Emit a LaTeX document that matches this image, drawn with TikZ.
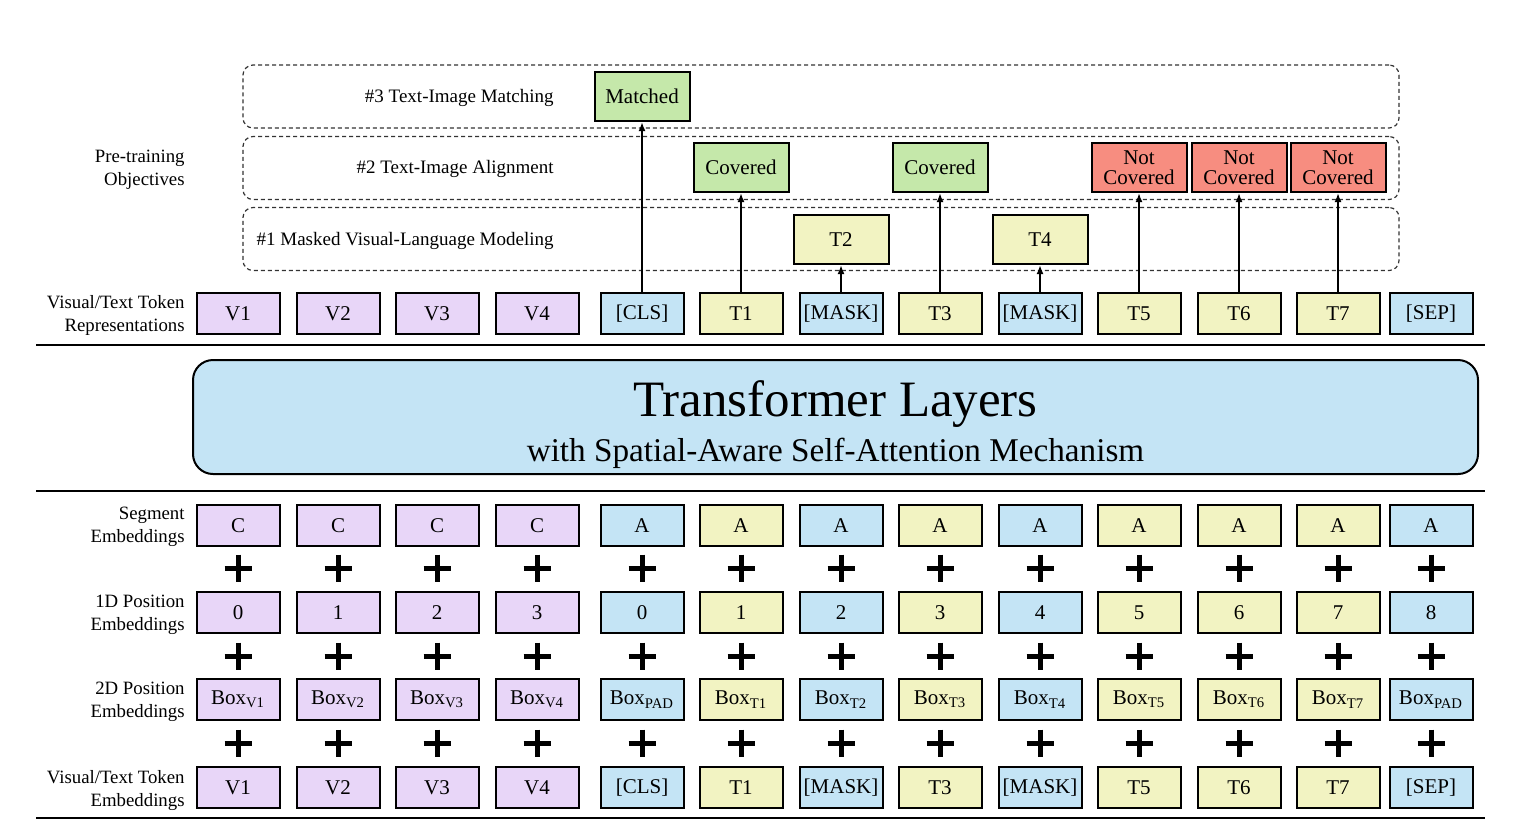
\documentclass[tikz,border=0pt]{standalone}
\usepackage{fontspec}
\setmainfont{Liberation Serif}
\usepackage{xcolor}
\usetikzlibrary{arrows.meta, positioning}

\definecolor{vispurple}{RGB}{232,214,248}
\definecolor{spcblue}{RGB}{196,228,245}
\definecolor{txtyellow}{RGB}{242,243,194}
\definecolor{okgreen}{RGB}{197,232,170}
\definecolor{nored}{RGB}{247,141,128}

\tikzset{
  tok/.style={draw, line width=1pt, minimum width=41.5pt, minimum height=20.5pt, inner sep=0pt, font=\fontsize{10.5}{12}\selectfont},
  outbox/.style={draw, line width=1pt, minimum width=47.5pt, minimum height=24.5pt, inner sep=0pt, align=center, font=\fontsize{10.5}{10}\selectfont},
  rowlabel/.style={anchor=east, align=right, inner sep=0pt, font=\fontsize{9.4}{11.5}\selectfont},
  objlabel/.style={anchor=east, inner sep=0pt, font=\fontsize{9.5}{11.5}\selectfont},
  objframe/.style={draw=black!80, dashed, dash pattern=on 2pt off 1.5pt, line width=0.6pt, rounded corners=5pt, minimum width=578pt, minimum height=31.5pt},
  rule/.style={line width=1.2pt},
  arr/.style={-{Latex[length=4.5pt,width=3.5pt]}, line width=0.9pt},
  plussign/.pic={\draw[line width=2.5pt] (-13.5,0) -- (13.5,0) (0,-13.5) -- (0,13.5);}
}

\begin{document}
\begin{tikzpicture}[x=0.5pt, y=-0.5pt]
  \useasboundingbox (0,0) rectangle (1529,832);

  % pre-training objectives
  \node[objframe] (obj3) at (821,96.5) {};
  \node[objframe] (obj2) at (821,168) {};
  \node[objframe] (obj1) at (821,239) {};
  \node[objlabel] (obj3-lab) at (554,98) {\#3 Text-Image Matching};
  \node[objlabel] (obj2-lab) at (554,169) {\#2 Text-Image Alignment};
  \node[objlabel] (obj1-lab) at (554,241) {\#1 Masked Visual-Language Modeling};

  % row labels
  \node[rowlabel] (lab-obj) at (185,170) {Pre-training\\Objectives};
  \node[rowlabel] (lab-rep) at (185,315) {Visual/Text Token\\Representations};
  \node[rowlabel] (lab-seg) at (185,527) {Segment\\Embeddings};
  \node[rowlabel] (lab-pos) at (185,614.5) {1D Position\\Embeddings};
  \node[rowlabel] (lab-box) at (185,702) {2D Position\\Embeddings};
  \node[rowlabel] (lab-emb) at (185,790) {Visual/Text Token\\Embeddings};

  % token columns
  \foreach \i/\x/\col/\tok/\seg/\pos/\bx in {
      1/238/vispurple/V1/C/0/V1, 2/338/vispurple/V2/C/1/V2,
      3/437/vispurple/V3/C/2/V3, 4/537/vispurple/V4/C/3/V4,
      5/642/spcblue/[CLS]/A/0/PAD, 6/741/txtyellow/T1/A/1/T1,
      7/841/spcblue/[MASK]/A/2/T2, 8/940/txtyellow/T3/A/3/T3,
      9/1040/spcblue/[MASK]/A/4/T4, 10/1139/txtyellow/T5/A/5/T5,
      11/1239/txtyellow/T6/A/6/T6, 12/1338/txtyellow/T7/A/7/T7,
      13/1431/spcblue/[SEP]/A/8/PAD} {
    \node[tok, fill=\col] (rep-\i) at (\x,313.5) {\tok};
    \node[tok, fill=\col] (seg-\i) at (\x,525.5) {\seg};
    \node[tok, fill=\col] (pos-\i) at (\x,612.5) {\pos};
    \node[tok, fill=\col] (box-\i) at (\x,699.5) {Box\textsubscript{\bx}};
    \node[tok, fill=\col] (emb-\i) at (\x,787.5) {\tok};
    \pic at (\x,568) {plussign};
    \pic at (\x,656) {plussign};
    \pic at (\x,743) {plussign};
  }

  % outputs
  \node[outbox, fill=okgreen] (match) at (642,96.5) {Matched};
  \node[outbox, fill=okgreen] (cov-6) at (741,167.5) {Covered};
  \node[outbox, fill=okgreen] (cov-8) at (940,167.5) {Covered};
  \node[outbox, fill=nored] (nc-10) at (1139,167.5) {Not\\Covered};
  \node[outbox, fill=nored] (nc-11) at (1239,167.5) {Not\\Covered};
  \node[outbox, fill=nored] (nc-12) at (1338,167.5) {Not\\Covered};
  \node[outbox, fill=txtyellow] (mlm-7) at (841,239.5) {T2};
  \node[outbox, fill=txtyellow] (mlm-9) at (1040,239.5) {T4};

  \draw[arr] (rep-5) -- (match);
  \draw[arr] (rep-6) -- (cov-6);
  \draw[arr] (rep-8) -- (cov-8);
  \draw[arr] (rep-10) -- (nc-10);
  \draw[arr] (rep-11) -- (nc-11);
  \draw[arr] (rep-12) -- (nc-12);
  \draw[arr] (rep-7) -- (mlm-7);
  \draw[arr] (rep-9) -- (mlm-9);

  % transformer
  \draw[rule] (36,345) -- (1485,345);
  \node[draw, line width=1pt, fill=spcblue, rounded corners=10pt, minimum width=642.5pt, minimum height=57pt] (trans) at (835.5,417) {};
  \node[anchor=base, inner sep=0pt, font=\fontsize{25.5}{30}\selectfont] (trans-title) at (835.5,416) {Transformer Layers};
  \node[anchor=base, inner sep=0pt, font=\fontsize{16.6}{20}\selectfont] (trans-sub) at (835.5,461) {with Spatial-Aware Self-Attention Mechanism};
  \draw[rule] (36,491) -- (1485,491);
  \draw[rule] (36,818) -- (1485,818);
\end{tikzpicture}
\end{document}
